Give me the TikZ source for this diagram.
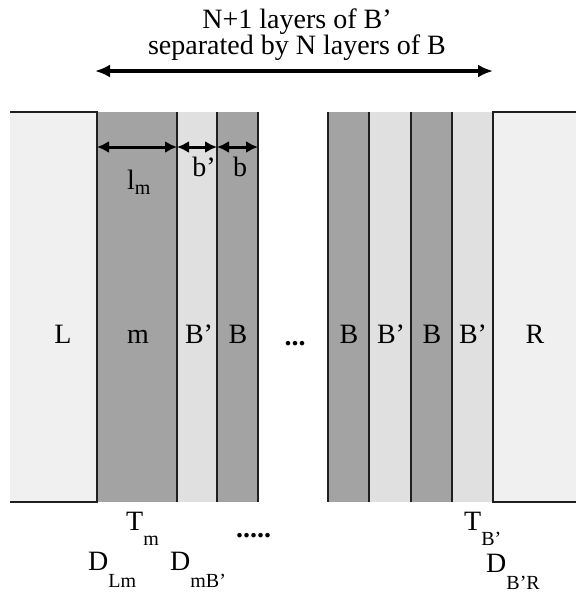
\documentclass[tikz,border=0pt]{standalone}
\usepackage{fontspec}
\setmainfont{Liberation Serif}
\usetikzlibrary{arrows.meta}
\definecolor{darklayer}{gray}{0.64}
\definecolor{palelayer}{gray}{0.88}
\definecolor{sidelayer}{gray}{0.94}
\definecolor{edgecol}{gray}{0.12}
\newcommand{\lowsub}[3]{#1\raisebox{-#3}{\fontsize{20}{20}\selectfont #2}}
\begin{document}
\begin{tikzpicture}[x=1pt,y=-1pt,
  layer/.style={inner sep=0pt, outer sep=0pt, minimum height=390pt, anchor=north west},
  edge/.style={draw=edgecol, line width=1.5pt},
  lab/.style={inner sep=0pt, anchor=base, font=\fontsize{28}{28}\selectfont},
  sublab/.style={inner sep=0pt, anchor=base west, font=\fontsize{28}{28}\selectfont},
  bigarrow/.style={line width=3.2pt, {Latex[length=15pt,width=13pt]}-{Latex[length=15pt,width=13pt]}},
  smallarrow/.style={line width=3pt, {Latex[length=12pt,width=12pt]}-{Latex[length=12pt,width=12pt]}}]
\useasboundingbox (0,0) rectangle (576,595);
% layers
\node[layer, fill=sidelayer, minimum width=87pt] (L) at (10,112) {};
\node[layer, fill=darklayer, minimum width=80pt] (m) at (97,112) {};
\node[layer, fill=palelayer, minimum width=40pt] (Bp1) at (177,112) {};
\node[layer, fill=darklayer, minimum width=41pt] (B1) at (217,112) {};
\node[layer, fill=darklayer, minimum width=41pt] (B2) at (328,112) {};
\node[layer, fill=palelayer, minimum width=42pt] (Bp2) at (369,112) {};
\node[layer, fill=darklayer, minimum width=41pt] (B3) at (411,112) {};
\node[layer, fill=palelayer, minimum width=41pt] (Bp3) at (452,112) {};
\node[layer, fill=sidelayer, minimum width=83pt] (R) at (493,112) {};
% edges
\draw[edge] (L.north west) -- (L.north east) -- (L.south east) -- (L.south west);
\draw[edge] (m.north east) -- (m.south east);
\draw[edge] (Bp1.north east) -- (Bp1.south east);
\draw[edge] (B1.north east) -- (B1.south east);
\draw[edge] (B2.north west) -- (B2.south west);
\draw[edge] (B2.north east) -- (B2.south east);
\draw[edge] (Bp2.north east) -- (Bp2.south east);
\draw[edge] (B3.north east) -- (B3.south east);
\draw[edge] (R.north east) -- (R.north west) -- (R.south west) -- (R.south east);
% layer labels
\node[lab] (tL) at (63,343) {L};
\node[lab] (tm) at (138,343) {m};
\node[lab] (tBp1) at (199,343) {B’};
\node[lab] (tB1) at (238,343) {B};
\node[lab] (tdots) at (295,345) {\textbf{...}};
\node[lab] (tB2) at (349,343) {B};
\node[lab] (tBp2) at (391,343) {B’};
\node[lab] (tB3) at (432,343) {B};
\node[lab] (tBp3) at (473,343) {B’};
\node[lab] (tR) at (535,343) {R};
% top text and arrow
\node[lab] (title1) at (297,28) {N+1 layers of B’};
\node[lab] (title2) at (297,54) {separated by N layers of B};
\coordinate (ta) at (95,71);
\coordinate (tb) at (493,71);
\draw[bigarrow] (ta) -- (tb);
% width arrows
\coordinate (row) at (0,147);
\draw[smallarrow] (m.west |- row) -- (m.east |- row);
\draw[smallarrow] (Bp1.west |- row) -- (Bp1.east |- row);
\draw[smallarrow] (B1.west |- row) -- (B1.east |- row);
\node[sublab] (lm) at (127,189) {\lowsub{l}{m}{5pt}};
\node[lab] (bp) at (204,176) {b’};
\node[lab] (bb) at (240,176) {b};
% bottom labels
\node[sublab] (Tm) at (126,530) {\lowsub{T}{m}{15pt}};
\node[sublab] (dots5) at (236,537) {\textbf{.....}};
\node[sublab] (DLm) at (88,570) {\lowsub{D}{Lm}{17pt}};
\node[sublab] (DmB) at (170,570) {\lowsub{D}{mB’}{17pt}};
\node[sublab] (TB) at (464,530) {\lowsub{T}{B’}{15pt}};
\node[sublab] (DBR) at (486,572) {\lowsub{D}{B’R}{17pt}};
\end{tikzpicture}
\end{document}
